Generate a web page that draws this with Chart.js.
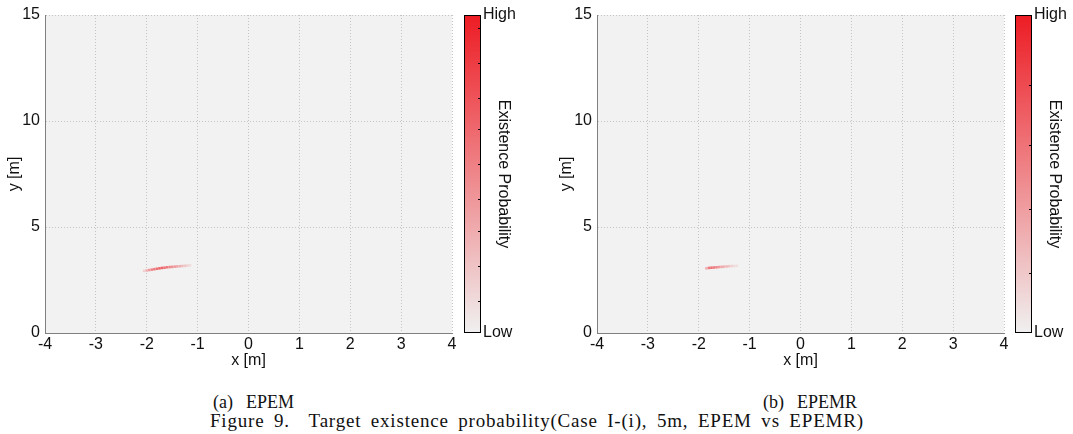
<!DOCTYPE html>
<html>
<head>
<meta charset="utf-8">
<script src="https://cdn.jsdelivr.net/npm/chart.js@4"></script>
<style>
  body { margin: 0; background: #fff; width: 1073px; height: 434px; position: relative; overflow: hidden; }
  canvas { position: absolute; top: 0; }
  .cap { position: absolute; font-family: "Liberation Serif", "Times New Roman", serif; color: #111; white-space: pre; line-height: 1; }
</style>
</head>
<body>
<canvas id="mapA" width="460" height="370" style="left:0px"></canvas>
<canvas id="barA" width="55" height="370" style="left:460px"></canvas>
<canvas id="mapB" width="460" height="370" style="left:552px"></canvas>
<canvas id="barB" width="55" height="370" style="left:1011px"></canvas>
<div class="cap" style="left:213px; top:393px; font-size:18px; word-spacing:2px">(a)  EPEM</div>
<div class="cap" style="left:763px; top:393px; font-size:18px; word-spacing:2px">(b)  EPEMR</div>
<div class="cap" style="left:210px; top:411px; font-size:19px; letter-spacing:0.8px; word-spacing:4px">Figure 9.  Target existence probability(Case I-(i), 5m, EPEM vs EPEMR)</div>
<script>
// axis ticks
var x_ticks = [-4, -3, -2, -1, 0, 1, 2, 3, 4];
var y_ticks = [0, 5, 10, 15];

// EPEM streak (x [m], y [m], existence probability)
var epem_x = [-2.05, -2.0, -1.95, -1.9, -1.85, -1.8, -1.75, -1.7, -1.65, -1.6, -1.55, -1.5, -1.45, -1.4, -1.35, -1.3, -1.25, -1.2, -1.15];
var epem_y = [2.93, 2.95, 2.97, 2.99, 3.01, 3.03, 3.05, 3.07, 3.08, 3.10, 3.11, 3.12, 3.13, 3.14, 3.15, 3.16, 3.17, 3.18, 3.19];
var epem_p = [0.15, 0.3, 0.4, 0.5, 0.55, 0.6, 0.65, 0.65, 0.6, 0.55, 0.5, 0.45, 0.4, 0.35, 0.3, 0.25, 0.2, 0.15, 0.1];

// EPEMR streak
var epemr_x = [-1.85, -1.8, -1.75, -1.7, -1.65, -1.6, -1.55, -1.5, -1.45, -1.4, -1.35, -1.3, -1.25];
var epemr_y = [3.05, 3.07, 3.08, 3.09, 3.10, 3.11, 3.12, 3.13, 3.14, 3.15, 3.16, 3.16, 3.17];
var epemr_p = [0.3, 0.55, 0.6, 0.55, 0.5, 0.4, 0.35, 0.3, 0.25, 0.2, 0.15, 0.1, 0.08];

// colorbar minor tick marks (fraction of bar)
var cbar_ticks_a = [0.10, 0.21, 0.32, 0.42, 0.53, 0.64, 0.74, 0.85, 0.96];
var cbar_ticks_b = [0.19, 0.39, 0.59, 0.78];

var LOW = [240, 240, 240];
var HIGH = [237, 28, 36];
function cmap(p) {
    var c = [];
    for (var i = 0; i < 3; i++) c.push(Math.round(LOW[i] + (HIGH[i] - LOW[i]) * p));
    return 'rgb(' + c.join(',') + ')';
}

Chart.defaults.color = '#111';
Chart.defaults.font = { family: 'Liberation Sans, Arial, sans-serif', size: 16 };

var bgPlugin = {
    id: 'bg',
    beforeDraw: function(chart) {
        var a = chart.chartArea, ctx = chart.ctx;
        ctx.save();
        ctx.fillStyle = 'rgb(241,242,241)';
        ctx.fillRect(a.left, a.top, a.right - a.left, a.bottom - a.top);
        ctx.restore();
    }
};

function makeMap(id, xs, ys, ps) {
    var pts = [];
    for (var i = 0; i < xs.length; i++) pts.push({ x: xs[i], y: ys[i] });
    return new Chart(document.getElementById(id), {
        type: 'scatter',
        data: {
            datasets: [{
                data: pts,
                backgroundColor: ps.map(cmap),
                borderWidth: 0,
                pointStyle: 'rect',
                pointRadius: 1.8
            }]
        },
        options: {
            responsive: false,
            animation: false,
            layout: { padding: { top: 15, right: 8, left: 0, bottom: 0 } },
            plugins: { legend: { display: false }, tooltip: { enabled: false } },
            scales: {
                x: {
                    type: 'linear', min: -4, max: 4,
                    afterBuildTicks: function(s) { s.ticks = x_ticks.map(function(v) { return { value: v }; }); },
                    afterFit: function(s) { s.height = 37; },
                    ticks: { padding: 2, maxRotation: 0 },
                    grid: { color: '#c4c4c4', drawTicks: false },
                    border: { display: true, color: '#808080', dash: [1, 2] },
                    title: { display: true, text: 'x [m]', padding: { top: 0, bottom: 0 } }
                },
                y: {
                    type: 'linear', min: 0, max: 15,
                    afterBuildTicks: function(s) { s.ticks = y_ticks.map(function(v) { return { value: v }; }); },
                    afterFit: function(s) { s.width = 45; },
                    ticks: { padding: 5 },
                    grid: { color: '#c4c4c4', drawTicks: false },
                    border: { display: true, color: '#808080', dash: [1, 2] },
                    title: { display: true, text: 'y [m]', padding: { top: 5, bottom: 0 } }
                }
            }
        },
        plugins: [bgPlugin]
    });
}

function makeBar(id, minorTicks) {
    var framePlugin = {
        id: 'frame',
        afterDatasetsDraw: function(chart) {
            var a = chart.chartArea, ctx = chart.ctx, ys = chart.scales.y;
            ctx.save();
            ctx.strokeStyle = '#000';
            ctx.lineWidth = 1;
            ctx.beginPath();
            minorTicks.forEach(function(t) {
                var py = Math.round(ys.getPixelForValue(t)) + 0.5;
                ctx.moveTo(a.right - 3, py);
                ctx.lineTo(a.right, py);
            });
            ctx.stroke();
            ctx.strokeRect(Math.round(a.left) + 0.5, Math.round(a.top) + 0.5,
                Math.round(a.right - a.left) - 1, Math.round(a.bottom - a.top) - 1);
            ctx.restore();
        }
    };
    return new Chart(document.getElementById(id), {
        type: 'bar',
        data: {
            labels: [''],
            datasets: [{
                data: [[0, 1]],
                barPercentage: 1,
                categoryPercentage: 1,
                borderWidth: 0,
                backgroundColor: function(ctx) {
                    var a = ctx.chart.chartArea;
                    if (!a) return cmap(0.5);
                    var g = ctx.chart.ctx.createLinearGradient(0, a.bottom, 0, a.top);
                    g.addColorStop(0, cmap(0));
                    g.addColorStop(1, cmap(1));
                    return g;
                }
            }]
        },
        options: {
            responsive: false,
            animation: false,
            layout: { padding: { top: 15, bottom: 37, left: 4, right: 0 } },
            plugins: { legend: { display: false }, tooltip: { enabled: false } },
            scales: {
                x: { display: false },
                y: {
                    type: 'linear', position: 'right', min: 0, max: 1,
                    afterBuildTicks: function(s) { s.ticks = [{ value: 0 }, { value: 1 }]; },
                    afterFit: function(s) { s.width = 34; },
                    ticks: {
                        padding: 2,
                        callback: function(v) { return v === 1 ? 'High' : 'Low'; }
                    },
                    grid: { display: false, drawTicks: false },
                    border: { display: false },
                    title: { display: true, text: 'Existence Probability', padding: { top: 2, bottom: 0 } }
                }
            }
        },
        plugins: [framePlugin]
    });
}

makeMap('mapA', epem_x, epem_y, epem_p);
makeBar('barA', cbar_ticks_a);
makeMap('mapB', epemr_x, epemr_y, epemr_p);
makeBar('barB', cbar_ticks_b);
</script>
</body>
</html>
